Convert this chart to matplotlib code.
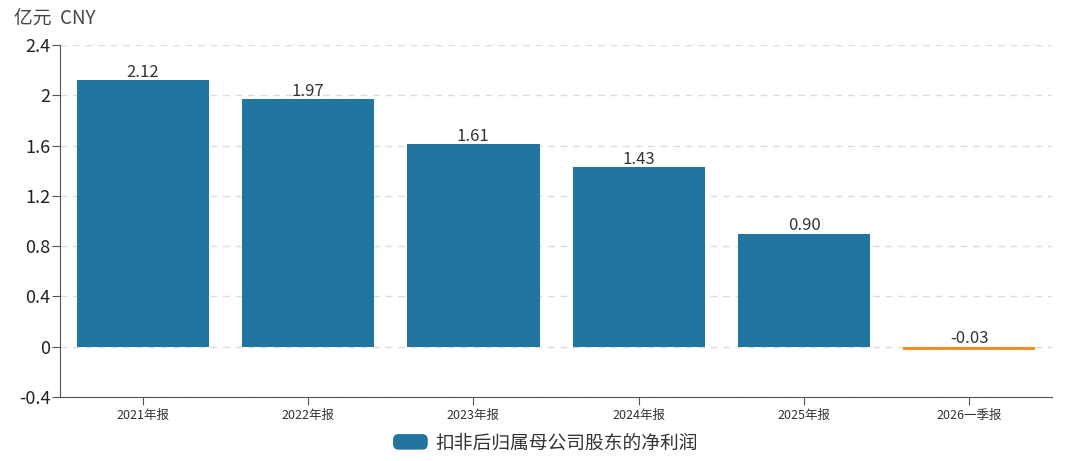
import matplotlib.pyplot as plt
from matplotlib.patches import FancyBboxPatch
from matplotlib.legend_handler import HandlerPatch

plt.rcParams['font.family'] = ['Noto Sans CJK SC', 'DejaVu Sans']

categories = ['2021年报', '2022年报', '2023年报', '2024年报', '2025年报', '2026一季报']
values = [2.12, 1.97, 1.61, 1.43, 0.90, -0.03]
labels = ['2.12', '1.97', '1.61', '1.43', '0.90', '-0.03']
yticks = [-0.4, 0, 0.4, 0.8, 1.2, 1.6, 2, 2.4]
ytick_labels = ['-0.4', '0', '0.4', '0.8', '1.2', '1.6', '2', '2.4']

blue = '#21759f'
orange = '#f5901e'
colors = [blue if v >= 0 else orange for v in values]

fig = plt.figure(figsize=(10.8, 4.61), dpi=100)
ax = fig.add_axes([0.0556, 0.139, 0.9185, 0.763])

x = range(len(categories))
bars = ax.bar(x, values, width=0.8, color=colors, zorder=3)
for xi, v, lab in zip(x, values, labels):
    ax.text(xi, max(v, 0) - 0.005, lab, ha='center', va='bottom',
            fontsize=12, color='#333333', zorder=4)

ax.set_xlim(-0.5, len(categories) - 0.5)
ax.set_ylim(-0.4, 2.4)
ax.set_yticks(yticks)
ax.set_yticklabels(ytick_labels, fontsize=13, color='#222222')
ax.set_xticks(list(x))
ax.set_xticklabels(categories, fontsize=9, color='#333333')

ax.grid(axis='y', color='#dddddd', linestyle=(0, (5, 4)), linewidth=1, zorder=0)
for s in ['top', 'right']:
    ax.spines[s].set_visible(False)
for s in ['left', 'bottom']:
    ax.spines[s].set_color('#555555')
ax.tick_params(axis='y', length=6, color='#555555', pad=1)
ax.tick_params(axis='x', length=6, color='#555555', pad=3)

fig.text(0.013, 0.958, '亿元  CNY', fontsize=13.5, color='#444444', va='center')


class RoundHandler(HandlerPatch):
    def create_artists(self, legend, orig_handle, xdescent, ydescent,
                       width, height, fontsize, trans):
        p = FancyBboxPatch((-xdescent, -ydescent), width, height,
                           boxstyle='round,pad=0,rounding_size=4',
                           facecolor=blue, edgecolor='none', transform=trans)
        return [p]


leg = fig.legend([bars[0]], ['扣非后归属母公司股东的净利润'], loc='lower center',
                 bbox_to_anchor=(0.505, -0.02), frameon=False, fontsize=13.5,
                 handlelength=1.85, handleheight=0.9, handletextpad=0.4,
                 handler_map={type(bars[0]): RoundHandler()})
for t in leg.get_texts():
    t.set_color('#333333')

fig.savefig('out.png', dpi=100)
